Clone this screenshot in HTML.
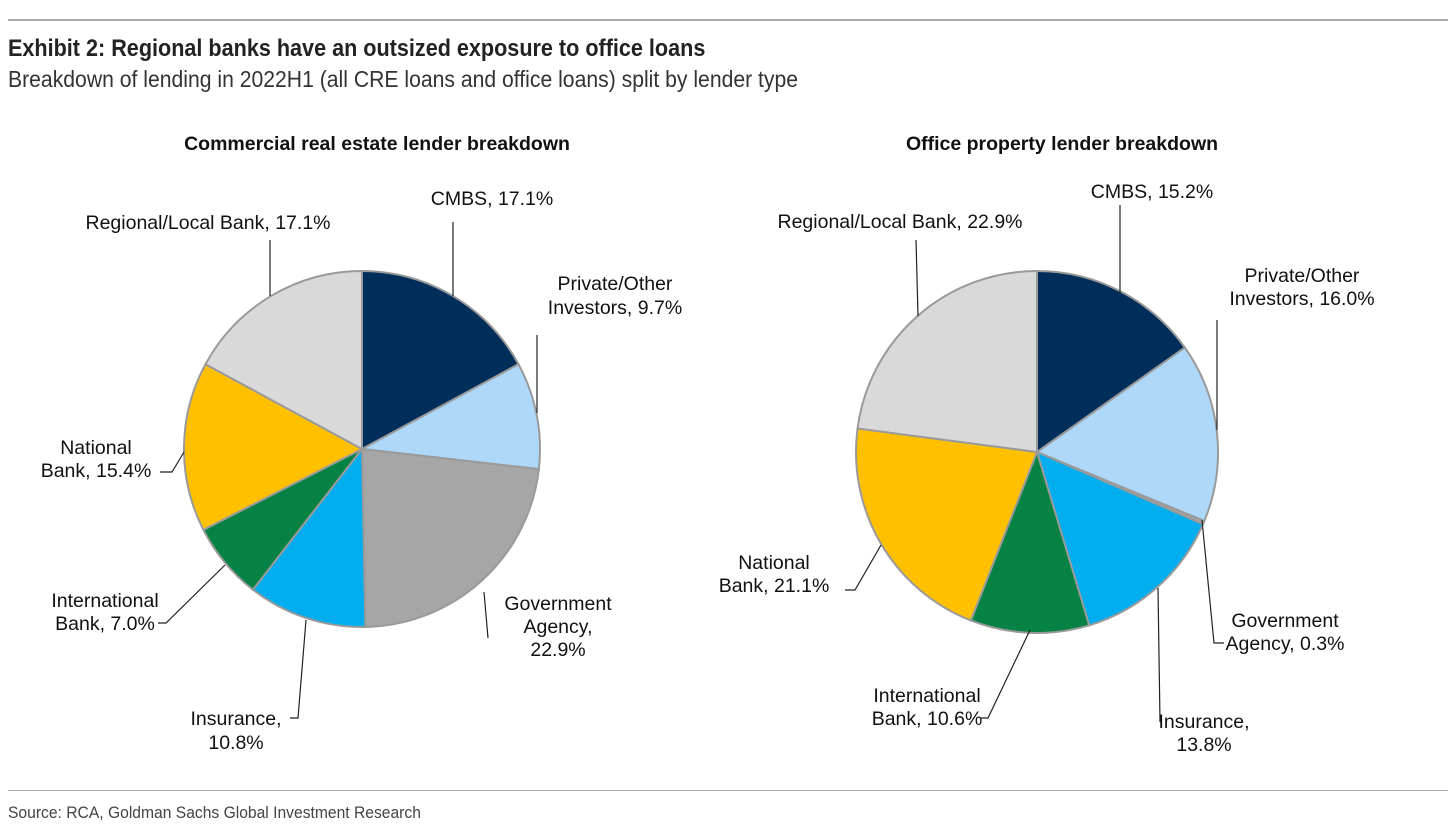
<!DOCTYPE html>
<html><head><meta charset="utf-8">
<style>
html,body{margin:0;padding:0;background:#fff;}
body{width:1456px;height:837px;position:relative;overflow:hidden;font-family:"Liberation Sans",Arial,sans-serif;}
.narrow{font-family:"Liberation Sans Narrow","Liberation Sans",sans-serif;transform-origin:0 0;white-space:nowrap;}
#title{position:absolute;left:8px;top:35px;font-size:24px;font-weight:bold;color:#222;transform:scaleX(0.9);}
#sub{position:absolute;left:8px;top:66px;font-size:23px;color:#333;transform:scaleX(0.92);}
#src{position:absolute;left:8px;top:803px;font-size:17px;color:#444;transform:scaleX(0.92);}
.rule{position:absolute;left:8px;width:1440px;height:2px;background:#aaa;}
svg{position:absolute;left:0;top:0;}
svg text{font-family:"Liberation Sans",Arial,sans-serif;font-size:19.5px;fill:#111;}
</style></head>
<body>
<div class="rule" style="top:19px"></div>
<div id="title" class="narrow">Exhibit 2: Regional banks have an outsized exposure to office loans</div>
<div id="sub" class="narrow">Breakdown of lending in 2022H1 (all CRE loans and office loans) split by lender type</div>
<div class="rule" style="top:790px;height:1px"></div>
<div id="src" class="narrow">Source: RCA, Goldman Sachs Global Investment Research</div>
<svg id="chart" width="1456" height="837">
<text x="377" y="150" text-anchor="middle" style="font-weight:bold;font-size:19.5px">Commercial real estate lender breakdown</text>
<text x="1062" y="150" text-anchor="middle" style="font-weight:bold;font-size:19.5px">Office property lender breakdown</text>
<g id="leftPie"></g><g id="rightPie"></g>
<g stroke="#222" stroke-width="1.2" fill="none">
<polyline points="453,222 453,296"/>
<polyline points="270,240 270,296"/>
<polyline points="537,335 537,413"/>
<polyline points="160,472 172,472 184,452"/>
<polyline points="158,623 166,623 225,565"/>
<polyline points="290,718 298,718 306,620"/>
<polyline points="488,638 484,592"/>
<polyline points="1120,205 1120,293"/>
<polyline points="916,240 918,316"/>
<polyline points="1217,320 1217,430"/>
<polyline points="1224,643 1214,643 1202,520"/>
<polyline points="1160,722 1158,588"/>
<polyline points="980,718 988,718 1030,630"/>
<polyline points="845,590 855,590 881,545"/>
</g>
<g>
<text x="492" y="205" text-anchor="middle">CMBS, 17.1%</text>
<text x="208" y="229" text-anchor="middle">Regional/Local Bank, 17.1%</text>
<text x="615" y="290" text-anchor="middle">Private/Other</text>
<text x="615" y="314" text-anchor="middle">Investors, 9.7%</text>
<text x="96" y="454" text-anchor="middle">National</text>
<text x="96" y="477" text-anchor="middle">Bank, 15.4%</text>
<text x="105" y="607" text-anchor="middle">International</text>
<text x="105" y="630" text-anchor="middle">Bank, 7.0%</text>
<text x="236" y="725" text-anchor="middle">Insurance,</text>
<text x="236" y="749" text-anchor="middle">10.8%</text>
<text x="558" y="610" text-anchor="middle">Government</text>
<text x="558" y="633" text-anchor="middle">Agency,</text>
<text x="558" y="656" text-anchor="middle">22.9%</text>
<text x="1152" y="198" text-anchor="middle">CMBS, 15.2%</text>
<text x="900" y="228" text-anchor="middle">Regional/Local Bank, 22.9%</text>
<text x="1302" y="282" text-anchor="middle">Private/Other</text>
<text x="1302" y="305" text-anchor="middle">Investors, 16.0%</text>
<text x="1285" y="627" text-anchor="middle">Government</text>
<text x="1285" y="650" text-anchor="middle">Agency, 0.3%</text>
<text x="1204" y="728" text-anchor="middle">Insurance,</text>
<text x="1204" y="751" text-anchor="middle">13.8%</text>
<text x="927" y="702" text-anchor="middle">International</text>
<text x="927" y="725" text-anchor="middle">Bank, 10.6%</text>
<text x="774" y="569" text-anchor="middle">National</text>
<text x="774" y="592" text-anchor="middle">Bank, 21.1%</text>
</g>
</svg>
<script>
const categories = ["CMBS","Private/Other Investors","Government Agency","Insurance","International Bank","National Bank","Regional/Local Bank"];
const creValues = [17.1, 9.7, 22.9, 10.8, 7.0, 15.4, 17.1];
const officeValues = [15.2, 16.0, 0.3, 13.8, 10.6, 21.1, 22.9];
const colors = ["#002E5A","#ADD8FA","#A6A6A6","#00AEEF","#068244","#FFC000","#D9D9D9"];
const NS = "http://www.w3.org/2000/svg";
function drawPie(gid, values, cx, cy, r, prefix){
  const g = document.getElementById(gid);
  const total = values.reduce((a,b)=>a+b,0);
  let a0 = -Math.PI/2;
  values.forEach((v,i)=>{
    const a1 = a0 + v/total*2*Math.PI;
    const x0 = cx + r*Math.cos(a0), y0 = cy + r*Math.sin(a0);
    const x1 = cx + r*Math.cos(a1), y1 = cy + r*Math.sin(a1);
    const large = (a1-a0) > Math.PI ? 1 : 0;
    const p = document.createElementNS(NS,"path");
    p.setAttribute("d",`M${cx},${cy} L${x0},${y0} A${r},${r} 0 ${large} 1 ${x1},${y1} Z`);
    p.setAttribute("fill",colors[i]);
    p.setAttribute("stroke","#9a9a9a");
    p.setAttribute("stroke-width","2");
    
    
    g.appendChild(p);
    a0 = a1;
  });
}
drawPie("leftPie", creValues, 362, 449, 178, "cre");
drawPie("rightPie", officeValues, 1037, 452, 181, "office");
</script>
</body></html>
